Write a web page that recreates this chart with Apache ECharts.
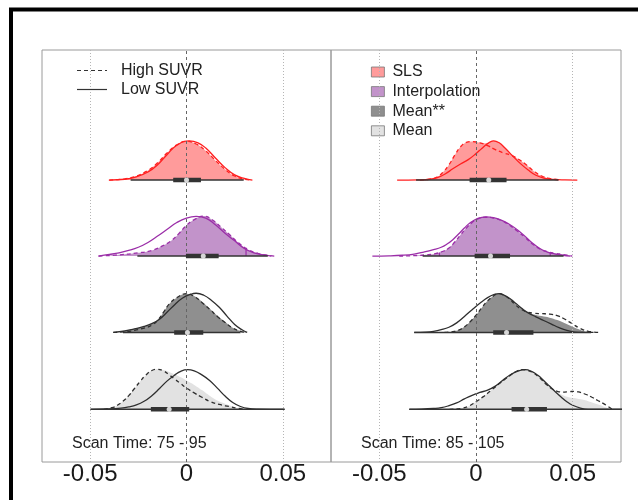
<!DOCTYPE html>
<html><head><meta charset="utf-8">
<script src="https://cdn.jsdelivr.net/npm/echarts@6/dist/echarts.min.js"></script>
<style>html,body{margin:0;padding:0;background:#fff}#c{width:638px;height:500px}</style>
</head><body><div id="c"></div><script>
// ---------- DATA ----------
const groups = ['SLS', 'Interpolation', 'Mean**', 'Mean'];
const lineLegend = ['High SUVR', 'Low SUVR'];
const panelTitles = ['Scan Time: 75 - 95', 'Scan Time: 85 - 105'];
const tickValues = [-0.05, 0, 0.05];
const tickLabels = ['-0.05', '0', '0.05'];

// density curves: [x, relative density]
// Left panel: Scan Time 75 - 95
const left_SLS_high = [[-0.040,0],[-0.032,0.03],[-0.026,0.10],[-0.020,0.24],[-0.015,0.43],[-0.010,0.68],[-0.005,0.88],[0.000,0.97],[0.005,0.90],[0.010,0.73],[0.015,0.49],[0.020,0.27],[0.025,0.10],[0.030,0.02],[0.033,0]];
const left_SLS_fill = [[-0.040,0],[-0.032,0.03],[-0.026,0.10],[-0.020,0.24],[-0.015,0.43],[-0.010,0.68],[-0.005,0.88],[0.000,0.97],[0.005,0.90],[0.010,0.73],[0.015,0.49],[0.020,0.27],[0.025,0.10],[0.030,0.02],[0.033,0]];
const left_SLS_low = [[-0.0403,0],[-0.032,0.02],[-0.026,0.08],[-0.020,0.20],[-0.015,0.38],[-0.010,0.64],[-0.005,0.87],[0.0015,0.98],[0.006,0.93],[0.010,0.80],[0.015,0.55],[0.020,0.31],[0.025,0.13],[0.030,0.04],[0.0342,0]];

const left_Interp_high = [[-0.0455,0],[-0.035,0.03],[-0.025,0.08],[-0.018,0.14],[-0.013,0.24],[-0.008,0.38],[-0.004,0.56],[0.000,0.77],[0.004,0.91],[0.009,1.0],[0.0135,0.90],[0.018,0.72],[0.022,0.55],[0.027,0.33],[0.032,0.16],[0.037,0.07],[0.042,0.02],[0.0457,0]];
const left_Interp_fill = [[-0.0455,0],[-0.035,0.03],[-0.025,0.08],[-0.018,0.14],[-0.013,0.24],[-0.008,0.38],[-0.004,0.56],[0.000,0.77],[0.004,0.91],[0.009,1.0],[0.0135,0.90],[0.018,0.72],[0.022,0.55],[0.027,0.33],[0.032,0.16],[0.037,0.07],[0.042,0.02],[0.0457,0]];
const left_Interp_low = [[-0.0458,0],[-0.040,0.04],[-0.035,0.08],[-0.030,0.14],[-0.025,0.22],[-0.020,0.34],[-0.015,0.50],[-0.010,0.67],[-0.005,0.84],[0.000,0.95],[0.005,0.99],[0.010,0.95],[0.015,0.78],[0.020,0.57],[0.025,0.38],[0.030,0.19],[0.035,0.08],[0.040,0.03],[0.044,0]];

const left_MeanSS_high = [[-0.038,0],[-0.032,0.02],[-0.027,0.05],[-0.022,0.11],[-0.018,0.18],[-0.015,0.30],[-0.012,0.50],[-0.009,0.71],[-0.005,0.87],[0.000,0.97],[0.004,0.90],[0.008,0.75],[0.0127,0.55],[0.016,0.40],[0.020,0.25],[0.024,0.11],[0.028,0.03],[0.031,0]];
const left_MeanSS_fill = [[-0.038,0],[-0.032,0.04],[-0.027,0.09],[-0.022,0.15],[-0.018,0.22],[-0.015,0.32],[-0.012,0.50],[-0.009,0.71],[-0.005,0.87],[0.000,0.97],[0.004,0.91],[0.008,0.77],[0.0127,0.57],[0.016,0.42],[0.020,0.27],[0.024,0.12],[0.028,0.04],[0.0315,0]];
const left_MeanSS_low = [[-0.038,0],[-0.032,0.04],[-0.027,0.09],[-0.022,0.15],[-0.018,0.22],[-0.014,0.33],[-0.010,0.51],[-0.006,0.70],[-0.002,0.86],[0.002,0.95],[0.005,0.98],[0.009,0.93],[0.013,0.80],[0.017,0.63],[0.021,0.41],[0.025,0.20],[0.029,0.06],[0.0315,0]];

const left_Mean_high = [[-0.0429,0],[-0.038,0.05],[-0.0359,0.10],[-0.033,0.20],[-0.030,0.34],[-0.027,0.52],[-0.024,0.70],[-0.021,0.86],[-0.018,0.97],[-0.0155,1.0],[-0.012,0.96],[-0.009,0.86],[-0.006,0.75],[-0.003,0.64],[0.000,0.53],[0.004,0.41],[0.008,0.30],[0.012,0.20],[0.017,0.12],[0.022,0.07],[0.026,0.03],[0.030,0]];
const left_Mean_fill = [[-0.0429,0],[-0.038,0.05],[-0.0359,0.10],[-0.033,0.20],[-0.030,0.34],[-0.027,0.52],[-0.024,0.70],[-0.021,0.86],[-0.018,0.97],[-0.0155,1.0],[-0.012,0.98],[-0.009,0.93],[-0.006,0.87],[-0.003,0.80],[0.000,0.72],[0.004,0.61],[0.008,0.48],[0.012,0.34],[0.016,0.22],[0.020,0.14],[0.024,0.07],[0.0283,0]];
const left_Mean_low = [[-0.0498,0],[-0.040,0.01],[-0.034,0.03],[-0.030,0.06],[-0.026,0.11],[-0.022,0.20],[-0.018,0.34],[-0.014,0.52],[-0.010,0.71],[-0.006,0.86],[-0.003,0.95],[0.0005,0.99],[0.004,0.96],[0.008,0.86],[0.012,0.72],[0.016,0.53],[0.020,0.33],[0.024,0.17],[0.028,0.07],[0.032,0.02],[0.037,0.005],[0.0509,0]];

// Right panel: Scan Time 85 - 105
const right_SLS_high = [[-0.029,0],[-0.024,0.02],[-0.020,0.08],[-0.017,0.20],[-0.014,0.38],[-0.011,0.62],[-0.008,0.83],[-0.005,0.94],[-0.002,0.96],[0.002,0.93],[0.006,0.86],[0.010,0.76],[0.014,0.68],[0.018,0.62],[0.022,0.52],[0.026,0.38],[0.030,0.22],[0.034,0.10],[0.038,0.04],[0.044,0]];
const right_SLS_fill = [[-0.029,0],[-0.024,0.02],[-0.020,0.08],[-0.017,0.20],[-0.014,0.38],[-0.011,0.62],[-0.008,0.83],[-0.005,0.94],[-0.002,0.96],[0.002,0.93],[0.005,0.92],[0.009,0.98],[0.012,0.93],[0.015,0.80],[0.019,0.62],[0.022,0.52],[0.026,0.38],[0.030,0.22],[0.034,0.10],[0.038,0.04],[0.044,0]];
const right_SLS_low = [[-0.0408,0],[-0.030,0.005],[-0.024,0.02],[-0.020,0.06],[-0.016,0.15],[-0.012,0.28],[-0.008,0.40],[-0.004,0.51],[0.000,0.66],[0.003,0.79],[0.006,0.91],[0.009,0.98],[0.012,0.93],[0.015,0.80],[0.019,0.60],[0.023,0.41],[0.027,0.25],[0.031,0.12],[0.035,0.05],[0.040,0.015],[0.046,0.003],[0.0524,0]];

const right_Interp_high = [[-0.0397,0],[-0.032,0.01],[-0.026,0.03],[-0.021,0.06],[-0.017,0.12],[-0.014,0.20],[-0.011,0.35],[-0.008,0.53],[-0.005,0.70],[-0.002,0.84],[0.001,0.93],[0.005,0.97],[0.009,0.95],[0.013,0.89],[0.017,0.78],[0.021,0.64],[0.025,0.48],[0.029,0.31],[0.033,0.18],[0.037,0.11],[0.041,0.07],[0.045,0.04],[0.0498,0]];
const right_Interp_fill = [[-0.0397,0],[-0.032,0.01],[-0.026,0.03],[-0.021,0.06],[-0.017,0.12],[-0.014,0.20],[-0.011,0.35],[-0.008,0.53],[-0.005,0.70],[-0.002,0.84],[0.001,0.93],[0.005,0.97],[0.009,0.95],[0.013,0.89],[0.017,0.78],[0.021,0.64],[0.025,0.48],[0.029,0.31],[0.033,0.18],[0.037,0.11],[0.041,0.07],[0.045,0.04],[0.0498,0]];
const right_Interp_low = [[-0.0536,0],[-0.045,0.005],[-0.038,0.02],[-0.032,0.05],[-0.027,0.10],[-0.022,0.16],[-0.018,0.22],[-0.015,0.30],[-0.012,0.41],[-0.009,0.55],[-0.006,0.70],[-0.003,0.83],[0.001,0.94],[0.005,0.98],[0.009,0.96],[0.013,0.90],[0.017,0.80],[0.021,0.67],[0.025,0.51],[0.029,0.33],[0.033,0.19],[0.037,0.10],[0.041,0.05],[0.045,0.02],[0.0488,0]];

const right_MeanSS_high = [[-0.0163,0],[-0.012,0.02],[-0.009,0.06],[-0.006,0.14],[-0.003,0.27],[0.000,0.43],[0.003,0.62],[0.006,0.79],[0.009,0.91],[0.0115,0.97],[0.014,0.94],[0.017,0.85],[0.020,0.71],[0.023,0.59],[0.026,0.52],[0.030,0.48],[0.034,0.47],[0.038,0.46],[0.042,0.42],[0.046,0.33],[0.050,0.21],[0.054,0.10],[0.058,0.03],[0.0644,0]];
const right_MeanSS_fill = [[-0.0163,0],[-0.012,0.02],[-0.009,0.06],[-0.006,0.14],[-0.003,0.27],[0.000,0.43],[0.003,0.62],[0.006,0.79],[0.009,0.91],[0.0115,0.97],[0.014,0.94],[0.017,0.86],[0.020,0.73],[0.023,0.61],[0.026,0.52],[0.030,0.45],[0.034,0.41],[0.038,0.37],[0.042,0.31],[0.046,0.23],[0.050,0.14],[0.054,0.06],[0.0575,0]];
const right_MeanSS_low = [[-0.0319,0],[-0.026,0.01],[-0.022,0.03],[-0.018,0.07],[-0.014,0.13],[-0.010,0.24],[-0.006,0.40],[-0.002,0.57],[0.002,0.73],[0.006,0.87],[0.0095,0.95],[0.012,0.97],[0.015,0.92],[0.018,0.83],[0.021,0.71],[0.024,0.59],[0.027,0.49],[0.031,0.39],[0.035,0.30],[0.039,0.21],[0.043,0.12],[0.047,0.05],[0.051,0.01],[0.055,0],[0.0608,0]];

const right_Mean_high = [[-0.0137,0],[-0.010,0.01],[-0.0068,0.03],[-0.004,0.07],[-0.0016,0.14],[0.001,0.22],[0.0036,0.31],[0.006,0.40],[0.008,0.48],[0.010,0.56],[0.0123,0.65],[0.015,0.75],[0.018,0.86],[0.021,0.95],[0.024,0.99],[0.027,0.97],[0.030,0.90],[0.033,0.78],[0.036,0.64],[0.039,0.52],[0.042,0.45],[0.045,0.43],[0.048,0.44],[0.051,0.45],[0.054,0.42],[0.057,0.37],[0.060,0.30],[0.063,0.22],[0.066,0.14],[0.068,0.08],[0.0705,0]];
const right_Mean_fill = [[-0.0137,0],[-0.010,0.01],[-0.0068,0.03],[-0.004,0.07],[-0.0016,0.14],[0.001,0.22],[0.0036,0.31],[0.006,0.40],[0.008,0.48],[0.010,0.57],[0.0123,0.67],[0.015,0.76],[0.018,0.87],[0.021,0.95],[0.024,0.99],[0.027,0.97],[0.030,0.91],[0.033,0.80],[0.036,0.66],[0.039,0.53],[0.042,0.42],[0.045,0.35],[0.048,0.30],[0.052,0.27],[0.056,0.23],[0.060,0.17],[0.064,0.11],[0.067,0.05],[0.0696,0]];
const right_Mean_low = [[-0.0345,0],[-0.028,0.005],[-0.022,0.02],[-0.018,0.04],[-0.014,0.09],[-0.010,0.16],[-0.006,0.26],[-0.002,0.35],[0.002,0.42],[0.006,0.48],[0.010,0.58],[0.014,0.73],[0.018,0.87],[0.022,0.96],[0.0255,0.99],[0.029,0.94],[0.032,0.85],[0.035,0.72],[0.038,0.58],[0.041,0.44],[0.044,0.31],[0.047,0.19],[0.050,0.10],[0.054,0.03],[0.058,0],[0.0755,0]];

// box summaries: [whisker low, q1, median, q3, whisker high]
const left_SLS_box = [-0.0290, -0.0069, 0.0000, 0.0075, 0.0297];
const left_Interp_box = [-0.0255, -0.0003, 0.0087, 0.0167, 0.0422];
const left_MeanSS_box = [-0.0330, -0.0064, 0.0005, 0.0087, 0.0280];
const left_Mean_box = [-0.0498, -0.0185, -0.0090, 0.0014, 0.0509];
const right_SLS_box = [-0.0310, -0.0033, 0.0066, 0.0158, 0.0427];
const right_Interp_box = [-0.0276, -0.0007, 0.0075, 0.0176, 0.0453];
const right_MeanSS_box = [-0.0320, 0.0089, 0.0158, 0.0297, 0.0595];
const right_Mean_box = [-0.0345, 0.0184, 0.0262, 0.0367, 0.0755];

// quantile marks: [x, density height]
const left_Interp_quantiles = [[0.0309, 0.21]];
const right_Interp_quantiles = [[-0.0189, 0.09], [0.0384, 0.10]];

// ---------- LAYOUT / STYLE ----------
const FONT = '"Liberation Sans", Arial, Helvetica, sans-serif';
const baselines = [5.73, 3.83, 1.92, 0];
const fillColors = ['#FF9B9B', '#C293CA', '#8F8F8F', '#E2E2E2'];
const lineColors = ['#FF1F1F', '#9B2EA8', '#2E2E2E', '#2E2E2E'];
const SMOOTH = 0.45;
const panels = [
  {fills:[left_SLS_fill,left_Interp_fill,left_MeanSS_fill,left_Mean_fill],
   highs:[left_SLS_high,left_Interp_high,left_MeanSS_high,left_Mean_high],
   lows:[left_SLS_low,left_Interp_low,left_MeanSS_low,left_Mean_low],
   boxes:[left_SLS_box,left_Interp_box,left_MeanSS_box,left_Mean_box],
   quant:[[],left_Interp_quantiles,[],[]]},
  {fills:[right_SLS_fill,right_Interp_fill,right_MeanSS_fill,right_Mean_fill],
   highs:[right_SLS_high,right_Interp_high,right_MeanSS_high,right_Mean_high],
   lows:[right_SLS_low,right_Interp_low,right_MeanSS_low,right_Mean_low],
   boxes:[right_SLS_box,right_Interp_box,right_MeanSS_box,right_Mean_box],
   quant:[[],right_Interp_quantiles,[],[]]}
];

const series = [];
panels.forEach((P, p) => {
  series.push({
    type:'line', xAxisIndex:p, yAxisIndex:p, data:[], silent:true, z:1,
    markLine:{silent:true, symbol:'none', label:{show:false}, animation:false,
      data: tickValues.map(v => ({xAxis:v, lineStyle: v === 0
        ? {color:'#666', type:[3,3], width:1}
        : {color:'#B5B5B5', type:[1,2], width:1}}))}
  });
  groups.forEach((g, i) => {
    const b = baselines[i];
    const shift = arr => arr.map(d => [d[0], d[1] + b]);
    series.push({type:'line', name:g, xAxisIndex:p, yAxisIndex:p, data:shift(P.fills[i]),
      smooth:SMOOTH, symbol:'none', color:fillColors[i], silent:true, z:2,
      lineStyle:{width:0}, areaStyle:{color:fillColors[i], opacity:1, origin:b}});
    P.quant[i].forEach(q => {
      series.push({type:'line', xAxisIndex:p, yAxisIndex:p, data:[[q[0], b],[q[0], b + q[1]]],
        symbol:'none', silent:true, z:3, lineStyle:{color:lineColors[i], width:1.2}});
    });
    series.push({type:'line', name:g + ' high', xAxisIndex:p, yAxisIndex:p, data:shift(P.highs[i]),
      smooth:SMOOTH, symbol:'none', silent:true, z:3,
      lineStyle:{color:lineColors[i], width:1.3, type:[4,3]}});
    series.push({type:'line', name:g + ' low', xAxisIndex:p, yAxisIndex:p, data:shift(P.lows[i]),
      smooth:SMOOTH, symbol:'none', silent:true, z:3,
      lineStyle:{color:lineColors[i], width:1.3}});
    const bx = P.boxes[i];
    series.push({type:'line', xAxisIndex:p, yAxisIndex:p, data:[[bx[0], b],[bx[4], b]],
      symbol:'none', silent:true, z:4, lineStyle:{color:'#333', width:1.6}});
    series.push({type:'line', xAxisIndex:p, yAxisIndex:p, data:[[bx[1], b],[bx[3], b]],
      symbol:'none', silent:true, z:5, lineStyle:{color:'#333', width:4.5, cap:'butt'}});
    series.push({type:'scatter', xAxisIndex:p, yAxisIndex:p, data:[[bx[2], b]],
      symbol:'circle', symbolSize:5, silent:true, z:6, itemStyle:{color:'#fff'}});
  });
});

const labelFmt = v => {
  for (let k = 0; k < tickValues.length; k++) if (Math.abs(v - tickValues[k]) < 1e-9) return tickLabels[k];
  return '';
};
const mkX = p => ({type:'value', gridIndex:p, min:-0.075, max:0.075, interval:0.025,
  axisLine:{show:false}, axisTick:{show:false}, splitLine:{show:false},
  axisLabel:{fontSize:24, color:'#1a1a1a', fontFamily:FONT, margin:0, lineHeight:24, formatter:labelFmt,
    showMinLabel:true, showMaxLabel:true}});
const mkY = p => ({type:'value', gridIndex:p, min:-1.3175, max:8.98, show:false});

const textG = (x, y, t) => ({type:'text', silent:true, z:100,
  style:{x:x, y:y, text:t, font:'16px ' + FONT, fill:'#222', verticalAlign:'middle', textVerticalAlign:'middle'}});

const chart = echarts.init(document.getElementById('c'), null, {renderer:'canvas'});
chart.setOption({
  animation:false,
  backgroundColor:'#fff',
  grid:[
    {left:42, top:50, width:289, height:412, show:true, borderColor:'#9a9a9a', borderWidth:1},
    {left:331, top:50, width:290, height:412, show:true, borderColor:'#9a9a9a', borderWidth:1}
  ],
  xAxis:[mkX(0), mkX(1)],
  yAxis:[mkY(0), mkY(1)],
  legend:[
    {left:366, top:59, orient:'vertical', itemWidth:13, itemHeight:10, itemGap:3.6, selectedMode:false, icon:'rect',
     data:groups, itemStyle:{borderColor:'#777', borderWidth:0.8},
     textStyle:{fontSize:16, color:'#222', fontFamily:FONT, lineHeight:16, padding:[0,0,0,3]}}
  ],
  graphic:[
    {type:'rect', silent:true, z:100, shape:{x:11, y:9.5, width:700, height:600},
     style:{fill:'none', stroke:'#000', lineWidth:4}},
    {type:'line', silent:true, z:100, shape:{x1:77, y1:70.5, x2:107, y2:70.5},
     style:{stroke:'#333', lineWidth:1.2, lineDash:[4,3]}},
    {type:'line', silent:true, z:100, shape:{x1:77, y1:89.5, x2:107, y2:89.5},
     style:{stroke:'#333', lineWidth:1.2}},
    textG(121, 71, lineLegend[0]),
    textG(121, 90, lineLegend[1]),
    textG(72, 444, panelTitles[0]),
    textG(361, 444, panelTitles[1])
  ],
  series:series
});
</script></body></html>
